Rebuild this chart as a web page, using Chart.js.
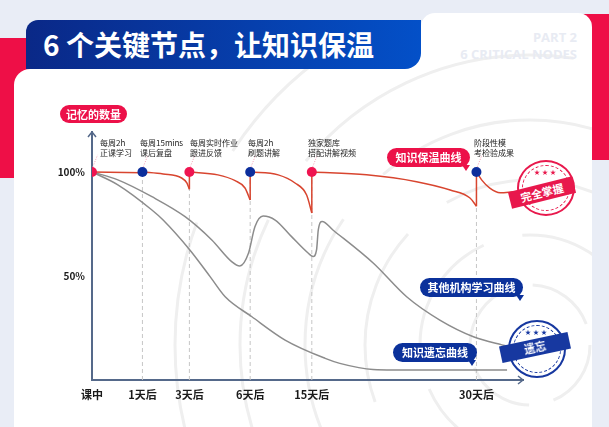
<!DOCTYPE html>
<html>
<head>
<meta charset="utf-8">
<script src="https://cdn.jsdelivr.net/npm/chart.js@4.4.0/dist/chart.umd.min.js"></script>
<style>
*{margin:0;padding:0;box-sizing:border-box}
body{width:609px;height:427px;overflow:hidden;background:#e9edf6;position:relative;font-family:"Noto Sans CJK SC","Noto Sans",sans-serif}
.abs{position:absolute}
#redL{left:0;top:38px;width:40px;height:140px;background:#ee0f47}
#redR{left:570px;top:14px;width:39px;height:146px;background:#ee0f47}
#fillet{left:395px;top:50px;width:30px;height:22px;background:#fff}
#tab{left:421px;top:13px;width:171px;height:100px;background:#fff;border-radius:14px 14px 0 0}
#card{left:14px;top:69px;width:578px;height:380px;background:#fff;border-radius:16px 0 0 0}
#banner{left:26px;top:20px;width:395px;height:49px;border-radius:12px 0 16px 0;background:linear-gradient(90deg,#0a2887,#0350c8)}
#title{left:43px;top:24px;color:#fff;font-size:28px;font-weight:700;line-height:40px;white-space:nowrap}
#part{right:32px;top:29px;color:#e8ebf3;font-size:13px;font-weight:700;line-height:17px;text-align:right;font-family:"Open Sans","Noto Sans",sans-serif}
#rings{left:0;top:0}
#wrap{left:0;top:0;width:609px;height:427px}
.pill{height:19px;border-radius:10px;color:#fff;font-size:11px;font-weight:700;line-height:19px;text-align:center;white-space:nowrap}
.pill.red{background:#ec1149}
.pill.blue{background:#0b319b}
.pill.tail::after{content:"";position:absolute;top:17px;border-style:solid;border-width:6px 4px 0 4px;border-color:inherit}
.note{font-size:8px;line-height:9.5px;color:#222;white-space:nowrap}
.stamp{border-radius:50%;background:#fff}
.ring1{position:absolute;inset:0;border-radius:50%;border:2px solid}
.ring2{position:absolute;inset:5px;border-radius:50%;border:1px dashed}
.dots{position:absolute;left:0;right:0;top:9px;text-align:center;font-size:6px;line-height:6px;letter-spacing:2px}
.band{position:absolute;color:#fff;font-size:11px;font-weight:700;text-align:center;line-height:17px;height:17px}
</style>
</head>
<body>
<div id="redL" class="abs"></div>
<div id="redR" class="abs"></div>
<div id="fillet" class="abs"></div>
<div id="tab" class="abs"></div>
<div id="card" class="abs"></div>
<svg id="rings" class="abs" width="609" height="427">
  <defs><clipPath id="cp"><rect x="14" y="69" width="578" height="380" rx="16"/><rect x="421" y="13" width="171" height="100" rx="14"/></clipPath></defs>
  <g clip-path="url(#cp)" fill="none" stroke="#efefef" stroke-width="3">
    <circle cx="530" cy="345" r="60" stroke-dasharray="70 25"/>
    <circle cx="530" cy="345" r="110" stroke-dasharray="130 40"/>
    <circle cx="530" cy="345" r="165" stroke-dasharray="180 50"/>
    <circle cx="530" cy="345" r="225" stroke-dasharray="240 60"/>
    <circle cx="530" cy="345" r="290" stroke-dasharray="300 70"/>
    <circle cx="530" cy="345" r="355" stroke-dasharray="360 80"/>
  </g>
</svg>
<div id="banner" class="abs"></div>
<div id="title" class="abs">6 个关键节点，让知识保温</div>
<div id="part" class="abs">PART 2<br>6 CRITICAL NODES</div>

<div id="wrap" class="abs"><canvas id="chart"></canvas></div>

<div class="abs pill red" style="left:60px;top:105px;width:67px;height:18px;line-height:18px">记忆的数量</div>
<div id="notes"></div>

<div class="abs pill red tail" style="left:387px;top:148px;width:83px;border-color:#ec1149 transparent transparent transparent">知识保温曲线<span></span></div>
<div class="abs pill blue tail" style="left:420px;top:278px;width:103px;border-color:#0b319b transparent transparent transparent">其他机构学习曲线</div>
<div class="abs pill blue tail" style="left:393px;top:343px;width:84px;border-color:#0b319b transparent transparent transparent">知识遗忘曲线</div>

<div class="abs stamp" style="left:517px;top:160px;width:58px;height:56px;color:#e8184c">
  <div class="ring1"></div><div class="ring2"></div><div class="dots">★★★</div>
  <div class="band" style="left:-8px;top:24px;width:66px;background:#e8184c;transform:rotate(-14deg)">完全掌握</div>
</div>
<div class="abs stamp" style="left:508px;top:320px;width:58px;height:58px;color:#1738a0">
  <div class="ring1"></div><div class="ring2"></div><div class="dots">★★★</div>
  <div class="band" style="left:-8px;top:19px;width:70px;background:#1738a0;transform:rotate(-12deg)">遗忘</div>
</div>

<script>
// ── axes
const xTickVals=[0,11.7,22.6,36.7,51.0,89.2];
const xLabels=['课中','1天后','3天后','6天后','15天后','30天后'];
const yTickVals=[50,100];
const yLabels=['50%','100%'];

// ── 6 个节点
const nodeX=[0,11.7,22.6,36.7,51.0,89.2];
const nodeKind=['red','blue','red','blue','red','blue'];
const nodeNotes=[['每周2h','正课学习'],['每周15mins','课后复盘'],['每周实时作业','跟进反馈'],['每周2h','刷题讲解'],['独家题库','搭配讲解视频'],['阶段性模','考检验成果']];

// ── 知识保温曲线 (分段)
const keep1=[[0,100],[11.7,99.6]];
const keep2=[[11.7,100],[16.5,99.0],[20.8,97.1],[22.0,94.7],[22.6,91.7]];
const keep3=[[22.6,100],[29.2,98.6],[33.2,95.8],[35.5,92.3],[36.7,86.5]];
const keep4=[[36.7,100],[43.2,98.6],[47.1,94.7],[49.8,88.9],[51.0,80.3]];
const keep5=[[51.0,100],[63.7,98.6],[75.3,95.3],[83.1,91.3],[87.7,87.5],[89.2,83.5]];
const keep6=[[89.2,100],[90.4,96.2],[92.3,92.2],[94.7,90.0],[97.7,90.5]];

// ── 其他机构学习曲线
const other=[[0,100],[6.0,96.2],[13.9,88.1],[21.6,78.5],[27.8,67.3],[32.4,56.9],[34.3,54.8],[36.3,60.9],[37.8,73.7],[39.7,78.8],[42.5,76.9],[46.3,68.9],[50.2,60.9],[51.3,59.3],[52.1,62.5],[52.5,72.1],[53.4,76.2],[55.9,72.1],[65.3,56.1],[73.0,40.0],[80.7,28.8],[88.5,20.8],[96.2,16.3]];

// ── 知识遗忘曲线
const forget=[[0,100],[6.0,93.8],[13.9,81.7],[16.5,76.9],[22.7,62.5],[27.4,49.7],[30.9,40.0],[37.1,30.4],[44.8,19.2],[54.1,10.4],[57.5,8.0],[65.2,5.1],[76.1,4.8],[96.3,4.8]];

const RED='#ef1450',BLUE='#0c2e9c',LINE_RED='#d8452f',GRAY='#8c8c8c',AXIS='#55698a';
const FONT='"Noto Sans CJK SC","Noto Sans",sans-serif';

const pts=a=>a.map(([x,y])=>({x,y}));
const curve=(a,color)=>({data:pts(a),borderColor:color,borderWidth:1.5,pointRadius:0,cubicInterpolationMode:'monotone',fill:false});

const drops=[keep2,keep3,keep4,keep5].flatMap(s=>{const e=s[s.length-1];return [{x:e[0],y:e[1]},{x:e[0],y:100},{x:e[0],y:null}];});
const guides=nodeX.slice(1).flatMap(x=>[{x,y:0},{x,y:100},{x,y:null}]);
const leaders=nodeX.flatMap(x=>[{x:x+0.2,y:102.5},{x:x+1.3,y:108.2},{x,y:null}]);

// note texts
const noteLeft=[100,140,190,248,308,474];
document.getElementById('notes').innerHTML=nodeNotes.map((n,i)=>
  `<div class="abs note" style="left:${noteLeft[i]}px;top:138px">${n[0]}<br>${n[1]}</div>`).join('');

const arrows={id:'arrows',afterDraw(c){
  const {ctx,chartArea:a}=c;ctx.save();ctx.strokeStyle=AXIS;ctx.lineWidth=1.5;ctx.beginPath();
  ctx.moveTo(a.left-4,a.top+5);ctx.lineTo(a.left,a.top);ctx.lineTo(a.left+4,a.top+5);
  ctx.moveTo(a.right-5,a.bottom-4);ctx.lineTo(a.right,a.bottom);ctx.lineTo(a.right-5,a.bottom+4);
  ctx.stroke();ctx.restore();}};

new Chart(document.getElementById('chart'),{
  type:'line',
  data:{datasets:[
    {data:nodeX.map(x=>({x,y:100})),showLine:false,pointRadius:5,pointHoverRadius:5,pointBorderWidth:0,
      pointBackgroundColor:nodeKind.map(k=>k==='red'?RED:BLUE)},
    {data:drops,borderColor:LINE_RED,borderWidth:1.5,pointRadius:0,tension:0,spanGaps:false},
    curve(keep1,LINE_RED),curve(keep2,LINE_RED),curve(keep3,LINE_RED),
    curve(keep4,LINE_RED),curve(keep5,LINE_RED),curve(keep6,LINE_RED),
    curve(other,GRAY),curve(forget,GRAY),
    {data:leaders,borderColor:'#f39ab0',borderWidth:1,borderDash:[1,1.5],pointRadius:0,spanGaps:false},
    {data:guides,borderColor:'#c6c6c6',borderWidth:1,borderDash:[4,3],pointRadius:0,spanGaps:false}
  ]},
  options:{responsive:true,maintainAspectRatio:false,animation:false,
    layout:{padding:{left:52,right:86,top:132,bottom:17}},
    plugins:{legend:{display:false},tooltip:{enabled:false}},
    scales:{
      x:{type:'linear',min:0,max:100,
        afterBuildTicks:s=>{s.ticks=xTickVals.map(v=>({value:v}));},
        afterFit:s=>{s.height=30;},
        ticks:{callback:(v,i)=>xLabels[i],autoSkip:false,maxRotation:0,padding:8,color:'#1a1a1a',font:{family:FONT,size:11,weight:'bold'}},
        grid:{display:false,drawTicks:false},border:{display:true,color:AXIS,width:2}},
      y:{min:0,max:119.2,
        afterBuildTicks:s=>{s.ticks=yTickVals.map(v=>({value:v}));},
        afterFit:s=>{s.width=40;},
        ticks:{callback:(v,i)=>yLabels[i],padding:7,color:'#1a1a1a',font:{family:FONT,size:10,weight:'bold'}},
        grid:{display:false,drawTicks:false},border:{display:true,color:AXIS,width:2}}
    }},
  plugins:[arrows]
});
</script>
</body>
</html>
